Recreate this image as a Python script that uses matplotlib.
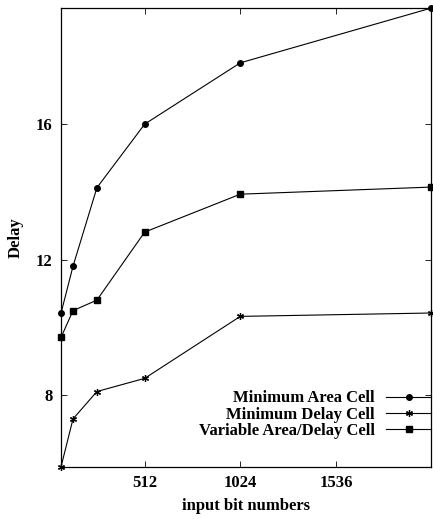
import matplotlib
matplotlib.use('Agg')
import matplotlib.pyplot as plt

# 입력 비트 수와 지연 값
bits = [64, 128, 256, 512, 1024, 2048]
min_area = [10.42, 11.8, 14.12, 16.0, 17.81, 19.43]
min_delay = [5.88, 7.29, 8.1, 8.49, 10.32, 10.42]
var_area_delay = [9.70, 10.49, 10.80, 12.81, 13.93, 14.14]

x_ticks = [512, 1024, 1536]
y_ticks = [8, 12, 16]

plt.rcParams['font.family'] = ['Liberation Serif', 'DejaVu Serif']
plt.rcParams['font.weight'] = 'bold'

fig = plt.figure(figsize=(4.33, 5.19), dpi=100)
ax = fig.add_axes([0.141, 0.1008, 0.8555, 0.8838])

lw = 0.8
ax.plot(bits, min_area, color='black', lw=lw, marker='o', ms=4,
        label='Minimum Area Cell', clip_on=False)
ax.plot(bits, min_delay, color='black', lw=lw, marker=(6, 2, 0), ms=5, mew=0.9,
        label='Minimum Delay Cell', clip_on=False)
ax.plot(bits, var_area_delay, color='black', lw=lw, marker='s', ms=4.5,
        label='Variable Area/Delay Cell', clip_on=False)

ax.set_xlim(64, 2048)
ax.set_ylim(min(min_delay), max(min_area))
ax.set_xticks(x_ticks)
ax.set_yticks(y_ticks)
ax.tick_params(direction='in', length=4, width=0.6, top=True, right=True,
               labelsize=12, pad=6)
for lab in ax.get_xticklabels() + ax.get_yticklabels():
    lab.set_fontweight('bold')
for s in ax.spines.values():
    s.set_linewidth(0.9)

ax.set_xlabel('input bit numbers', fontsize=12, fontweight='bold', labelpad=5)
ax.set_ylabel('Delay', fontsize=12, fontweight='bold', labelpad=9)

leg = ax.legend(loc='lower right', frameon=False, markerfirst=False,
                fontsize=12, handlelength=2.75, handletextpad=0.66,
                labelspacing=0.02, borderaxespad=0.0, borderpad=0.0,
                bbox_to_anchor=(1.0, 0.06))
for t in leg.get_texts():
    t.set_fontweight('bold')
    t.set_ha('right')

fig.savefig('out.png', dpi=100)
